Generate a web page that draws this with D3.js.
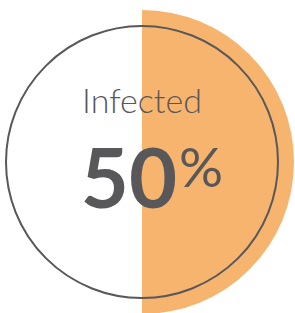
<!DOCTYPE html>
<html>
<head>
<meta charset="utf-8">
<script src="https://cdn.jsdelivr.net/npm/d3@7"></script>
<style>
  html, body { margin: 0; padding: 0; background: #fff; }
  svg { display: block; }
</style>
</head>
<body>
<svg id="chart" width="295" height="313"></svg>
<script>
(function () {
  "use strict";

  // data
  const label = "Infected";
  const percent = [50];
  const total = 100;

  const cx = 142, cy = 162;
  const outerR = 152, ringR = 136;

  const svg = d3.select("#chart");
  const g = svg.append("g").attr("transform", `translate(${cx},${cy})`);

  const angle = d3.scaleLinear().domain([0, total]).range([0, 2 * Math.PI]);
  const arc = d3.arc().innerRadius(0).outerRadius(outerR).startAngle(0);

  g.selectAll("path.fill")
    .data(percent)
    .join("path")
    .attr("class", "fill")
    .attr("fill", "#f7b46e")
    .attr("d", (d) => arc({ endAngle: angle(d) }));

  g.append("circle")
    .attr("r", ringR)
    .attr("fill", "none")
    .attr("stroke", "#58585a")
    .attr("stroke-width", 2);

  g.append("text")
    .attr("x", 0)
    .attr("y", 113 - cy)
    .attr("text-anchor", "middle")
    .attr("font-family", "Lato, sans-serif")
    .attr("font-weight", 300)
    .attr("font-size", 34)
    .attr("fill", "#58585a")
    .text(label);

  const big = g.append("text")
    .attr("x", 10)
    .attr("y", 208 - cy)
    .attr("text-anchor", "middle")
    .attr("font-family", "Lato, sans-serif")
    .attr("fill", "#58585a");
  big.append("tspan")
    .attr("font-weight", 700)
    .attr("font-size", 83)
    .text(percent[0]);
  big.append("tspan")
    .attr("font-weight", 400)
    .attr("font-size", 55)
    .attr("dx", 2)
    .attr("dy", -21)
    .text("%");
})();
</script>
</body>
</html>
